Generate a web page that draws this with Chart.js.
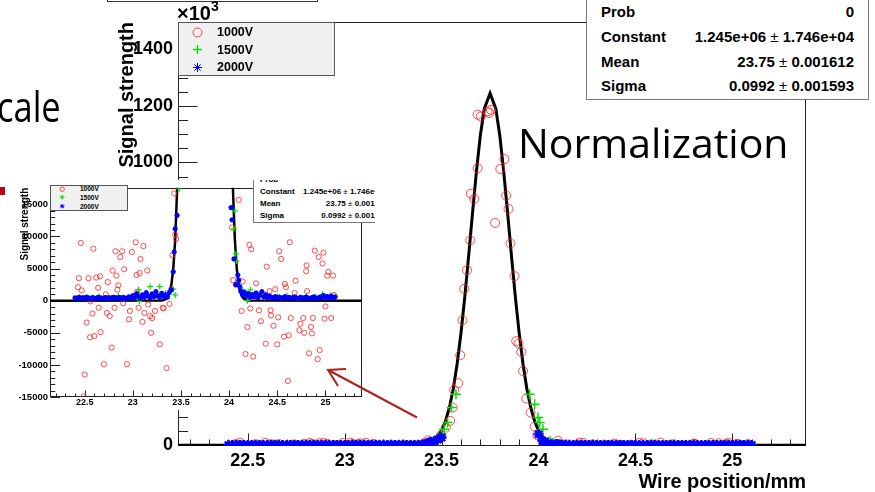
<!DOCTYPE html>
<html>
<head>
<meta charset="utf-8">
<script src="https://cdn.jsdelivr.net/npm/chart.js@4.4.1/dist/chart.umd.min.js"></script>
<style>
html, body { margin: 0; padding: 0; background: #fff; }
body { width: 875px; height: 492px; position: relative; overflow: hidden; font-family: 'Liberation Sans', Arial, sans-serif; }
#main { position: absolute; left: 0; top: 0; }
#titlebox { position: absolute; left: 107px; top: -20px; width: 211px; height: 22px; box-sizing: border-box; border: 1px solid #333; background: #fff; }
#x10 { position: absolute; left: 177px; top: 3px; font: bold 20px/20px 'Liberation Sans', Arial, sans-serif; }
#x10 span { position: relative; top: -9px; font-size: 14px; }
.legend { position: absolute; background: #f0f0f0; border: 1px solid #555; box-sizing: border-box; }
.legend .row { position: absolute; white-space: nowrap; font-weight: bold; }
.legend svg { position: absolute; }
.stats { position: absolute; background: #fff; border: 1px solid #777; box-sizing: border-box; }
.stats .row { position: absolute; font-weight: bold; white-space: nowrap; }
.stats .v { position: absolute; right: 0; top: 0; }
.stats .pm { font-weight: normal; }
#inset { position: absolute; left: 14px; top: 180px; width: 361px; height: 230px; background: #fff; overflow: hidden; }
#insetChart { position: absolute; left: 0; top: 0; }
#norm { position: absolute; left: 518px; top: 122px; font: 41px/41px 'Open Sans', sans-serif; color: #000; white-space: nowrap; }
#cale { position: absolute; left: -3px; top: 85px; font: 42px/42px 'Open Sans', sans-serif; transform: scaleX(0.82); transform-origin: left top; }
#bullet { position: absolute; left: 0; top: 187px; width: 5px; height: 8px; background: #c0001a; }
#arrow { position: absolute; left: 0; top: 0; }
</style>
</head>
<body>
<canvas id="main" width="875" height="492"></canvas>
<div id="titlebox"></div>
<div id="x10">×10<span>3</span></div>
<div id="legend" class="legend" style="left:178px;top:22px;width:157px;height:54px;font-size:12.5px;"></div>
<div id="stats" class="stats" style="left:586px;top:-20px;width:283px;height:120px;font-size:15px;"></div>
<div id="inset">
  <canvas id="insetChart" width="361" height="230"></canvas>
  <div id="ilegend" class="legend" style="left:36px;top:5px;width:78px;height:26px;font-size:6.5px;"></div>
  <div id="istats" class="stats" style="left:239px;top:-15px;width:142px;height:58px;font-size:8px;"></div>
</div>
<div id="norm">Normalization</div>
<div id="cale">cale</div>
<div id="bullet"></div>
<svg id="arrow" width="875" height="492">
  <line x1="417" y1="417.5" x2="330" y2="371" stroke="#b0201c" stroke-width="2"/>
  <polyline points="346,369 328,370 338,386" fill="none" stroke="#b0201c" stroke-width="2"/>
</svg>

<script>
// series names and fit results
const seriesNames = ['1000V', '1500V', '2000V'];
const statLabels = ['Prob', 'Constant', 'Mean', 'Sigma'];
const statValues = ['0', '1.245e+06', '23.75', '0.0992'];
const statErrors = ['', '1.746e+04', '0.001612', '0.001593'];

// tick labels
const xLabels = [22.5, 23, 23.5, 24, 24.5, 25];
const mainYLabels = [0, 200000, 400000, 600000, 800000, 1000000, 1200000, 1400000];
const insetYLabels = [-15000, -10000, -5000, 0, 5000, 10000, 15000];

// gaus fit curve (wire position, signal)
const fitX = [22.14, 23.30, 23.32, 23.34, 23.36, 23.38, 23.40, 23.42, 23.44, 23.46, 23.48, 23.50,
  23.52, 23.54, 23.56, 23.58, 23.60, 23.62, 23.64, 23.66, 23.68, 23.70, 23.72, 23.75,
  23.78, 23.80, 23.82, 23.84, 23.86, 23.88, 23.90, 23.92, 23.94, 23.96, 23.98, 24.00,
  24.02, 24.04, 24.06, 24.08, 24.10, 24.12, 24.14, 24.16, 24.18, 24.20, 25.38];
const fitY = [0, 42, 103, 243, 548, 1186, 2466, 4922, 9425, 17343, 30640, 51990,
  84690, 132400, 198900, 286900, 396900, 527500, 673200, 825000, 970600, 1096500, 1189300, 1245000,
  1189300, 1096500, 970600, 825000, 673200, 527500, 396900, 286900, 198900, 132400, 84690, 51990,
  30640, 17343, 9425, 4922, 2466, 1186, 548, 243, 103, 42, 0];

// 1000V
const pts1000 = [
  [22.43, 2100], [22.44, 3500], [22.46, 9000], [22.47, 1600], [22.49, -14900], [22.50, -11500],
  [22.52, -3400], [22.54, 3500], [22.555, -5700], [22.56, -100], [22.58, -2000], [22.59, 8100],
  [22.60, -5500], [22.62, 3600], [22.64, 2000], [22.645, -1100], [22.66, 3800], [22.665, -4900],
  [22.70, -9900], [22.72, 1000], [22.73, -1900], [22.74, 2900], [22.76, -2400], [22.78, -7300],
  [22.79, 4700], [22.81, -1100], [22.82, 7700], [22.83, 3900], [22.84, 1700], [22.85, 2400],
  [22.87, 6800], [22.89, 7700], [22.90, -400], [22.91, 4900], [22.94, -9900], [22.96, -2900],
  [22.97, -1600], [22.99, 7600], [23.01, 700], [23.03, 9100], [23.04, 4000], [23.045, 1400],
  [23.06, -1100], [23.07, 4300], [23.08, 6500], [23.10, -3300], [23.11, 8500], [23.12, -1900],
  [23.15, 4700], [23.16, -600], [23.18, -2400], [23.19, -5000], [23.20, -2700], [23.23, -1600],
  [23.28, -6800], [23.31, -1100], [23.32, -1200], [23.35, -10500], [23.38, -500], [23.40, 1800],
  [23.41, 7100], [23.43, 16700], [23.44, 10300], [23.45, 9600],
  [23.497, 35000], [23.522, 62000], [23.544, 86000], [23.557, 133000], [23.565, 195000],
  [23.586, 219000], [23.596, 318000], [23.608, 442000], [23.617, 553000], [23.631, 619000],
  [23.648, 725000], [23.651, 890000], [23.669, 871000], [23.686, 980000], [23.686, 1169000],
  [23.703, 1163000], [23.738, 1181000], [23.746, 1175000], [23.755, 1186000], [23.776, 786000],
  [23.803, 977000], [23.824, 1012000], [23.833, 883000], [23.845, 836000], [23.855, 713000],
  [23.876, 598000], [23.885, 368000], [23.897, 360000], [23.911, 330000], [23.92, 262000],
  [23.937, 165000], [23.959, 115000], [23.98, 66000], [23.994, 35000],
  [24.03, 11400], [24.04, 3200], [24.07, 2500], [24.10, 15700], [24.13, -1600], [24.14, 3000],
  [24.17, -8300], [24.19, -4100], [24.21, 8700], [24.22, -1200], [24.23, 8000], [24.25, -8700],
  [24.28, 2700], [24.31, -1500], [24.33, -3200], [24.36, 1000], [24.38, -6700], [24.39, 5300],
  [24.42, 1500], [24.43, -1500], [24.435, -2300], [24.46, -3900], [24.48, 1800], [24.50, -6800],
  [24.51, -2600], [24.52, 7700], [24.54, 6500], [24.57, -5600], [24.58, 2600], [24.59, 2100],
  [24.61, -12500], [24.62, -5400], [24.63, 9100], [24.64, -2700], [24.68, 1200], [24.69, 3100],
  [24.73, -4600], [24.74, -3600], [24.77, -2700], [24.78, -5000], [24.80, 4600], [24.805, 5500],
  [24.81, 1500], [24.83, -8200], [24.85, -4100], [24.86, -5100], [24.87, -2700], [24.89, 7800],
  [24.92, -9100], [24.93, 6800], [24.94, -7700], [24.97, 5800], [24.98, 7500], [24.99, -2800],
  [25.00, -900], [25.02, 3900], [25.03, 4500], [25.06, -2700], [25.08, 3900], [25.09, 900]
];

// 1500V
const pts1500 = [
  [22.45, 600], [22.55, 350], [22.65, 700], [22.75, 450], [22.85, 800], [22.95, 500],
  [23.06, 1700], [23.07, -100], [23.12, 900], [23.18, 2200], [23.24, 1000], [23.28, 2200],
  [23.34, 1200], [23.42, 1800], [23.44, 900], [23.48, 17400],
  [23.50, 39000], [23.513, 56000], [23.531, 80000], [23.551, 133000], [23.574, 180000],
  [23.954, 180000], [23.98, 145000], [23.997, 98000], [24.006, 80000], [24.023, 56000],
  [24.05, 11200], [24.06, 14000], [24.07, 7300], [24.075, 6200], [24.14, 1700], [24.19, 0],
  [24.22, 1700], [24.30, 900], [24.40, 700], [24.50, 600], [24.60, 800], [24.70, 500],
  [24.80, 700], [24.90, 600], [24.97, 1000], [25.05, 800], [25.10, 700]
];

// 2000V
const pts2000 = [
  [22.40, 450], [22.42, 380], [22.44, 520], [22.46, 300], [22.48, 470], [22.50, 350], [22.52, 560],
  [22.54, 410], [22.56, 330], [22.58, 490], [22.60, 400], [22.62, 280], [22.64, 530], [22.66, 450],
  [22.68, 360], [22.70, 420], [22.72, 500], [22.74, 310], [22.76, 460], [22.78, 390], [22.80, 540],
  [22.82, 350], [22.84, 430], [22.86, 480], [22.88, 300], [22.90, 510], [22.92, 420], [22.94, 370],
  [22.96, 600], [22.98, 450], [23.00, 780], [23.02, 520], [23.04, 1100], [23.06, 640], [23.08, 380],
  [23.10, 900], [23.12, 560], [23.14, 1250], [23.16, 700], [23.18, 480], [23.20, 1050], [23.22, 620],
  [23.24, 1400], [23.26, 750], [23.28, 520], [23.30, 1150], [23.32, 680], [23.34, 900], [23.36, 560],
  [23.38, 1300], [23.40, 1700], [23.42, 4500], [23.43, 7600], [23.44, 11200], [23.46, 13300],
  [23.48, 20000], [23.50, 27000],
  [24.00, 38000], [24.02, 14500], [24.03, 12600], [24.05, 6500], [24.07, 2500], [24.09, 4000],
  [24.10, 3200], [24.11, 2200], [24.12, 1500],
  [24.14, 900], [24.16, 1300], [24.18, 700], [24.20, 1100], [24.22, 550], [24.24, 950], [24.26, 620],
  [24.28, 1200], [24.30, 480], [24.32, 850], [24.34, 1400], [24.36, 600], [24.38, 900], [24.40, 450],
  [24.42, 700], [24.44, 520], [24.46, 380], [24.48, 640], [24.50, 430], [24.52, 550], [24.54, 300],
  [24.56, 480], [24.58, 620], [24.60, 400], [24.62, 510], [24.64, 350], [24.66, 470], [24.68, 580],
  [24.70, 420], [24.72, 300], [24.74, 520], [24.76, 450], [24.78, 380], [24.80, 560], [24.82, 410],
  [24.84, 330], [24.86, 490], [24.88, 600], [24.90, 420], [24.92, 370], [24.94, 540], [24.96, 460],
  [24.98, 800], [25.00, 520], [25.02, 640], [25.04, 410], [25.06, 700], [25.08, 480], [25.10, 560]
];

const seriesColors = ['rgba(255,30,30,0.8)', '#00e000', '#0000ff'];

Chart.defaults.font.family = "'Liberation Sans', Arial, sans-serif";
Chart.defaults.color = '#000';

// ROOT style frame with inward ticks
const rootAxes = {
  id: 'rootAxes',
  beforeDatasetsDraw(chart, args, o) {
    const { ctx, chartArea: a } = chart;
    const xs = chart.scales.x, ys = chart.scales.y;
    const L = Math.round(a.left) + 0.5, R = Math.round(a.right) - 0.5;
    const T = Math.round(a.top) + 0.5, B = Math.round(a.bottom) - 0.5;
    const isMajor = (v, m) => Math.abs(v / m - Math.round(v / m)) < 1e-6;
    ctx.save();
    ctx.strokeStyle = '#222';
    ctx.lineWidth = 1;
    ctx.strokeRect(L, T, R - L, B - T);
    ctx.beginPath();
    for (let i = 0; ; i++) {
      const v = o.x[0] + i * o.x[2];
      if (v > o.x[1] + 1e-9) break;
      const px = Math.round(xs.getPixelForValue(v)) + 0.5;
      const len = isMajor(v, o.x[3]) ? o.xLen : o.xLen / 2;
      ctx.moveTo(px, B); ctx.lineTo(px, B - len);
    }
    for (let i = 0; ; i++) {
      const v = o.y[0] + i * o.y[2];
      if (v > o.y[1] + 1e-9) break;
      const py = Math.round(ys.getPixelForValue(v)) + 0.5;
      const len = isMajor(v, o.y[3]) ? o.yLen : o.yLen / 2;
      ctx.moveTo(L, py); ctx.lineTo(L + len, py);
    }
    ctx.stroke();
    ctx.restore();
  }
};

function toXY(list) {
  return list.map(p => ({ x: p[0], y: p[1] }));
}

function makeDatasets(sz) {
  return [
    { label: seriesNames[2], data: toXY(pts2000), pointStyle: 'star', pointRadius: sz.star,
      pointBorderColor: seriesColors[2], pointBorderWidth: sz.starW, order: 0 },
    { label: seriesNames[1], data: toXY(pts1500), pointStyle: 'cross', pointRadius: sz.cross,
      pointBorderColor: seriesColors[1], pointBorderWidth: sz.crossW, order: 1 },
    { label: seriesNames[0], data: toXY(pts1000), pointStyle: 'circle', pointRadius: sz.circle,
      pointBorderColor: seriesColors[0], pointBackgroundColor: 'rgba(0,0,0,0)', pointBorderWidth: 1, order: 2 },
    { label: 'gaus', data: fitX.map((x, i) => ({ x: x, y: fitY[i] })), showLine: true, pointRadius: 0,
      borderColor: '#000', borderWidth: sz.line, tension: 0, clip: 0, order: 3 }
  ];
}

function makeScales(c) {
  return {
    x: {
      type: 'linear', min: 22.14, max: 25.38,
      grid: { display: false, drawTicks: false }, border: { display: false },
      afterBuildTicks: s => { s.ticks = xLabels.map(v => ({ value: v })); },
      afterFit: s => { s.height = c.xHeight; },
      ticks: { font: { size: c.xFont, weight: 'bold' }, padding: c.xPad, maxRotation: 0, autoSkip: false,
        callback: v => String(v) },
      title: { display: c.xTitle, text: 'Wire position/mm', align: 'end',
        font: { size: 20, weight: 'bold', lineHeight: 1 }, padding: { top: 0, bottom: 0 } }
    },
    y: {
      type: 'linear', min: c.yMin, max: c.yMax,
      grid: { display: false, drawTicks: false }, border: { display: false },
      afterBuildTicks: s => { s.ticks = c.yLabels.map(v => ({ value: v })); },
      afterFit: s => { s.width = c.yWidth; },
      ticks: { font: { size: c.yFont, weight: 'bold' }, padding: c.yPad, autoSkip: false,
        callback: v => String(v / c.yDiv) },
      title: { display: true, text: 'Signal strength', align: 'end',
        font: { size: c.titleFont, weight: 'bold', lineHeight: 1 }, padding: { top: c.titlePad, bottom: 0 } }
    }
  };
}

new Chart(document.getElementById('main'), {
  type: 'scatter',
  data: { datasets: makeDatasets({ star: 5, starW: 2.4, cross: 5, crossW: 1.5, circle: 4.5, line: 3 }) },
  options: {
    responsive: false, animation: false, events: [],
    layout: { padding: { left: 115, top: 22, right: 69, bottom: 0 }, autoPadding: false },
    plugins: {
      legend: { display: false }, tooltip: { enabled: false },
      rootAxes: { x: [22.2, 25.3, 0.1, 0.5], xLen: 12, y: [0, 1450000, 50000, 200000], yLen: 19 }
    },
    scales: makeScales({ xHeight: 46, xFont: 18, xPad: 4, xTitle: true, yMin: -3000, yMax: 1497000,
      yLabels: mainYLabels, yWidth: 63, yFont: 18, yPad: 5, yDiv: 1000, titleFont: 20, titlePad: 2 })
  },
  plugins: [rootAxes]
});

new Chart(document.getElementById('insetChart'), {
  type: 'scatter',
  data: { datasets: makeDatasets({ star: 2.6, starW: 1.5, cross: 3, crossW: 1.2, circle: 2.6, line: 2.5 }) },
  options: {
    responsive: false, animation: false, events: [],
    layout: { padding: { left: 5, top: 5, right: 13, bottom: 0 }, autoPadding: false },
    plugins: {
      legend: { display: false }, tooltip: { enabled: false },
      rootAxes: { x: [22.2, 25.3, 0.1, 0.5], xLen: 6, y: [-15000, 17000, 1000, 5000], yLen: 9.5 }
    },
    scales: makeScales({ xHeight: 13, xFont: 9, xPad: 0, xTitle: false, yMin: -15000, yMax: 17600,
      yLabels: insetYLabels, yWidth: 31, yFont: 9.5, yPad: 2, yDiv: 1, titleFont: 10, titlePad: 1 })
  },
  plugins: [rootAxes]
});

// legend boxes
const markerSvg = [
  r => `<circle cx="${r + 1}" cy="${r + 1}" r="${r}" fill="none" stroke="${seriesColors[0]}" stroke-width="1"/>`,
  r => `<path d="M1 ${r + 1}H${2 * r + 1}M${r + 1} 1V${2 * r + 1}" stroke="${seriesColors[1]}" stroke-width="1.3"/>`,
  r => {
    const c = r + 1, d = r * 0.7;
    return `<path d="M1 ${c}H${2 * r + 1}M${c} 1V${2 * r + 1}M${c - d} ${c - d}L${c + d} ${c + d}M${c - d} ${c + d}L${c + d} ${c - d}" stroke="${seriesColors[2]}" stroke-width="1"/>`;
  }
];

function buildLegend(el, g) {
  seriesNames.forEach((name, i) => {
    const cy = g.rows[i];
    const size = 2 * g.r + 2;
    el.insertAdjacentHTML('beforeend',
      `<svg width="${size}" height="${size}" style="left:${g.mx - g.r - 1}px;top:${cy - g.r - 1}px">${markerSvg[i](g.r)}</svg>` +
      `<div class="row" style="left:${g.tx}px;top:${cy - g.h / 2}px;height:${g.h}px;line-height:${g.h}px">${name}</div>`);
  });
}
buildLegend(document.getElementById('legend'), { rows: [9, 26.5, 44], mx: 18, tx: 38, r: 4.5, h: 16 });
buildLegend(document.getElementById('ilegend'), { rows: [3, 11.5, 20.5], mx: 11, tx: 29, r: 2.2, h: 8 });

function buildStats(el, g) {
  statLabels.forEach((name, i) => {
    const val = statErrors[i] ? `${statValues[i]} <span class="pm">±</span> ${statErrors[i]}` : statValues[i];
    el.insertAdjacentHTML('beforeend',
      `<div class="row" style="left:${g.pad}px;right:${g.pad}px;top:${g.rows[i] - g.h / 2}px;height:${g.h}px;line-height:${g.h}px">` +
      `${name}<span class="v">${val}</span></div>`);
  });
}
buildStats(document.getElementById('stats'), { rows: [31, 56, 81, 105], pad: 14, h: 24 });
buildStats(document.getElementById('istats'), { rows: [13.7, 25.7, 38, 49.7], pad: 6, h: 12 });
</script>
</body>
</html>
